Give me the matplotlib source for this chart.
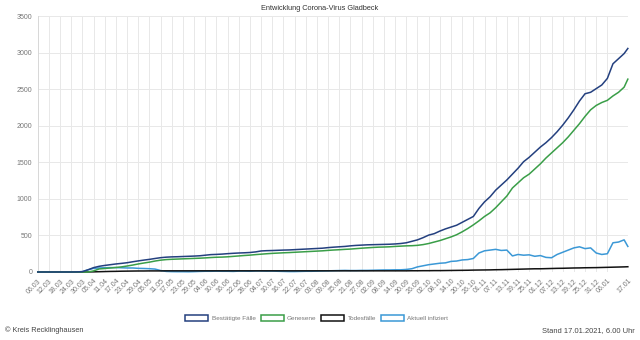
import matplotlib
matplotlib.use("Agg")
import matplotlib.pyplot as plt
from matplotlib.patches import Patch
import pandas as pd

plt.rcParams.update({"font.family": ["Liberation Sans", "DejaVu Sans"]})

C_CASES = "#24407f"
C_RECOV = "#3a9e48"
C_DEATH = "#111111"
C_ACTIVE = "#3b98d6"
C_GRID = "#e8e8e8"
C_TICK = "#777777"

# reporting dates: every third day from 06.03.2020, plus the last report 17.01.2021
dates = list(pd.date_range("2020-03-06", "2021-01-15", freq="3D")) + [pd.Timestamp("2021-01-17")]

cases = [0, 0, 0, 0, 0, 0, 0, 1, 5, 30,
         60, 78, 90, 100, 110, 118, 127, 140, 152, 163,
         173, 185, 196, 203, 207, 209, 212, 215, 218, 222,
         230, 238, 241, 245, 251, 256, 260, 263, 267, 275,
         288, 292, 294, 297, 300, 302, 306, 310, 314, 318,
         322, 326, 334, 340, 345, 350, 358, 364, 368, 372,
         374, 376, 378, 380, 384, 390, 400, 420, 440, 470,
         505, 525, 560, 590, 615, 640, 680, 720, 760, 870,
         960, 1030, 1120, 1190, 1260, 1340, 1420, 1510, 1570, 1640,
         1710, 1770, 1840, 1920, 2010, 2110, 2220, 2340, 2440, 2460,
         2510, 2560, 2650, 2850, 2920, 2990, 3060]

recovered = [0, 0, 0, 0, 0, 0, 0, 0, 0, 0,
             15, 42, 48, 55, 62, 70, 82, 95, 110, 123,
             135, 150, 162, 170, 174, 177, 180, 183, 186, 189,
             193, 198, 202, 204, 208, 214, 220, 226, 231, 238,
             244, 250, 255, 259, 263, 266, 270, 274, 278, 282,
             286, 290, 296, 301, 305, 310, 314, 320, 326, 331,
             336, 340, 342, 345, 350, 354, 358, 360, 365, 375,
             390, 410, 430, 455, 480, 510, 550, 595, 645, 700,
             760, 810, 880, 960, 1040, 1150, 1220, 1290, 1340, 1410,
             1480, 1560, 1630, 1700, 1770, 1850, 1940, 2030, 2130, 2220,
             2280, 2320, 2350, 2410, 2460, 2530, 2640]

deaths = [0, 0, 0, 0, 0, 0, 0, 0, 0, 1,
          2, 4, 6, 8, 9, 11, 12, 13, 14, 14,
          15, 15, 15, 16, 16, 16, 16, 16, 16, 16,
          16, 16, 16, 16, 16, 16, 16, 16, 16, 16,
          16, 16, 16, 16, 16, 16, 16, 16, 16, 16,
          16, 16, 16, 16, 16, 16, 16, 16, 16, 16,
          16, 16, 16, 16, 16, 16, 16, 17, 17, 18,
          18, 19, 19, 20, 21, 22, 23, 24, 26, 27,
          28, 29, 31, 32, 34, 36, 38, 40, 42, 44,
          44, 46, 48, 50, 51, 53, 55, 56, 58, 59,
          60, 62, 64, 66, 68, 70, 72]

active = [0, 0, 0, 0, 0, 0, 0, 1, 5, 30,
          50, 55, 58, 60, 60, 58, 55, 55, 50, 48,
          45, 40, 20, 8, 5, 4, 4, 3, 5, 8,
          10, 10, 12, 10, 10, 8, 12, 12, 10, 14,
          14, 12, 13, 10, 8, 6, 6, 8, 10, 10,
          12, 14, 16, 18, 20, 22, 20, 20, 22, 22,
          24, 26, 28, 28, 30, 30, 35, 45, 70, 85,
          100, 110, 120, 125, 145, 150, 165, 170, 185, 260,
          290, 300, 310, 295, 300, 220, 240, 230, 235, 215,
          225, 200, 195, 240, 270, 300, 330, 345, 320, 330,
          260, 240, 250, 400, 410, 440, 350]

series = [("Bestätigte Fälle", cases, C_CASES),
          ("Genesene", recovered, C_RECOV),
          ("Todesfälle", deaths, C_DEATH),
          ("Aktuell infiziert", active, C_ACTIVE)]

# axis labels every sixth day plus the final date
tick_dates = list(pd.date_range("2020-03-06", "2021-01-06", freq="6D")) + [pd.Timestamp("2021-01-17")]

fig = plt.figure(figsize=(6.4, 3.4), dpi=100)
ax = fig.add_axes([0.059, 0.2, 0.922, 0.752])

# first series drawn on top
for k, (name, vals, col) in enumerate(series):
    ax.plot(dates, vals, color=col, lw=1.1, solid_joinstyle="round",
            zorder=10 - k, clip_on=False)

ax.set_ylim(0, 3500)
ax.set_yticks(range(0, 3501, 500))
ax.set_xlim(dates[0], dates[-1])
ax.set_xticks(tick_dates)
ax.set_xticklabels([d.strftime("%d.%m") for d in tick_dates], rotation=45,
                   ha="right", rotation_mode="anchor")
ax.tick_params(axis="both", length=0, labelsize=5, colors=C_TICK, pad=4)
ax.grid(True, color=C_GRID, lw=0.7)
ax.set_axisbelow(True)
for s in ax.spines.values():
    s.set_visible(False)
ax.axvline(dates[0], color="#d8d8d8", lw=0.7, zorder=1)

fig.text(0.5, 0.976, "Entwicklung Corona-Virus Gladbeck", ha="center", va="center",
         fontsize=5.3, color="#333333")

handles = [Patch(facecolor="white", edgecolor=col, lw=1.1, label=name) for name, _, col in series]
fig.legend(handles=handles, loc="center", bbox_to_anchor=(0.495, 0.064), ncol=4, frameon=False,
           fontsize=4.6, labelcolor="#777777", handlelength=3.6, handleheight=1.1,
           handletextpad=0.5, columnspacing=0.8)

fig.text(0.008, 0.028, "© Kreis Recklinghausen", ha="left", va="center", fontsize=5.3, color="#444444")
fig.text(0.992, 0.028, "Stand 17.01.2021, 6.00 Uhr", ha="right", va="center", fontsize=5.4, color="#444444")

fig.savefig("out.png", dpi=100)
